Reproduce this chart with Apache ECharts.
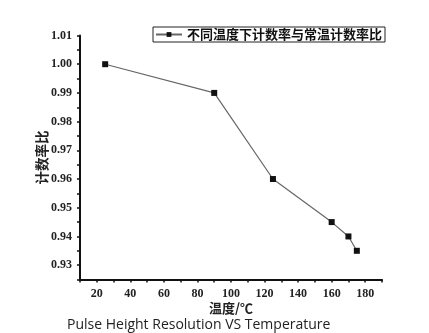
<!DOCTYPE html>
<html><head><meta charset="utf-8">
<script src="https://cdn.jsdelivr.net/npm/echarts@6/dist/echarts.min.js"></script>
<style>html,body{margin:0;padding:0;background:#fff}#c{width:429px;height:333px}</style>
</head><body><div id="c"></div>
<script>
const temperatures = [25, 90, 125, 160, 170, 175];
const ratios = [1.00, 0.99, 0.96, 0.945, 0.94, 0.935];
const seriesName = '不同温度下计数率与常温计数率比';
const xName = '温度/℃';
const yName = '计数率比';
const titleText = 'Pulse Height Resolution VS Temperature';

const chart = echarts.init(document.getElementById('c'));
const tickFont = {fontFamily: 'Liberation Serif', fontSize: 12, fontWeight: 'bold', color: '#222'};
chart.setOption({
  animation: false,
  title: {text: titleText, left: 67, top: 318, padding: 0,
    textStyle: {fontFamily: 'Open Sans', fontSize: 14, fontWeight: 'normal', color: '#222'}},
  legend: {left: 153, top: 27, padding: [0, 3, 0, 2], itemWidth: 26, itemHeight: 6,
    borderColor: '#222', borderWidth: 1,
    textStyle: {fontFamily: 'Noto Sans CJK SC', fontSize: 13, fontWeight: 'bold', color: '#111', lineHeight: 15},
    data: [seriesName]},
  grid: {left: 80, right: 47, top: 35.5, bottom: 53.5},
  xAxis: {type: 'value', min: 10, max: 190, interval: 10,
    name: xName, nameLocation: 'middle', nameGap: 22, nameMoveOverlap: false,
    nameTextStyle: {fontFamily: 'Noto Sans CJK SC', fontSize: 13, fontWeight: 'bold', color: '#222'},
    axisLine: {lineStyle: {color: '#111', width: 2}},
    axisTick: {inside: false, length: 3, lineStyle: {color: '#111', width: 1.5}},
    splitLine: {show: false},
    axisLabel: Object.assign({margin: 8, formatter: v => (Math.round(v) % 20 === 0 ? String(Math.round(v)) : '')}, tickFont)},
  yAxis: {type: 'value', min: 0.925, max: 1.01, interval: 0.005,
    name: yName, nameLocation: 'middle', nameGap: 31, nameRotate: 90, nameMoveOverlap: false,
    nameTextStyle: {fontFamily: 'Noto Sans CJK SC', fontSize: 13.5, fontWeight: 'bold', color: '#222'},
    axisLine: {show: true, lineStyle: {color: '#111', width: 2}},
    axisTick: {show: true, inside: false, length: 3, lineStyle: {color: '#111', width: 1.5}},
    splitLine: {show: false},
    axisLabel: Object.assign({margin: 8, formatter: v => {
      const h = v * 100; return Math.abs(h - Math.round(h)) < 1e-6 ? v.toFixed(2) : '';
    }}, tickFont)},
  series: [{name: seriesName, type: 'line', data: temperatures.map((t, i) => [t, ratios[i]]),
    symbol: 'rect', symbolSize: 6, showAllSymbol: true,
    itemStyle: {color: '#111'}, lineStyle: {color: '#666', width: 1.2}}]
});
</script></body></html>
